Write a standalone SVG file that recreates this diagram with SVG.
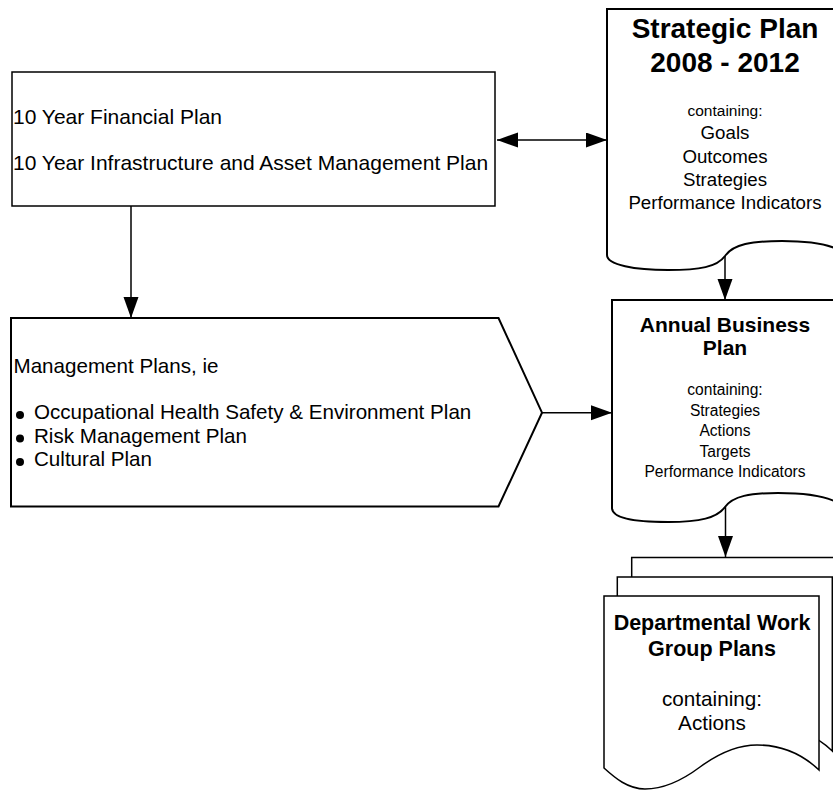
<svg xmlns="http://www.w3.org/2000/svg" xmlns:xlink="http://www.w3.org/1999/xlink" width="833" height="790" viewBox="0 0 833 790">
  <style>
    .box { fill: #ffffff; stroke: #000000; stroke-width: 2; stroke-linejoin: miter; }
    .thin { fill: #ffffff; stroke: #000000; stroke-width: 1.5; }
    .conn { fill: none; stroke: #000000; stroke-width: 1.5; }
    text { font-family: "Liberation Sans", Arial, sans-serif; fill: #000000; }
    .body { font-size: 20.6px; }
    .wide { font-size: 21px; }
    .mid { text-anchor: middle; }
    .bold { font-weight: bold; }
  </style>
  <defs>
    <marker id="arrow" markerUnits="userSpaceOnUse" markerWidth="22" markerHeight="16" refX="21" refY="7.5" orient="auto-start-reverse">
      <path d="M0,0 L21,7.5 L0,15 Z" fill="#000000"/>
    </marker>
    <!-- one sheet of the stacked multi-document shape -->
    <path id="sheet" d="M604,596 H819 V770 C800,752 780,745 757,745 C735,745 715,756 700,767 C680,782 662,789 645,789 C628,789 615,778 604,768 Z"/>
  </defs>

  <rect width="833" height="790" fill="#ffffff"/>

  <!-- connectors -->
  <g id="connectors">
    <line class="conn" x1="497" y1="140" x2="607" y2="140" marker-start="url(#arrow)" marker-end="url(#arrow)"/>
    <line class="conn" x1="131" y1="206" x2="131" y2="318" marker-end="url(#arrow)"/>
    <line class="conn" x1="542" y1="412.7" x2="612" y2="412.7" marker-end="url(#arrow)"/>
    <line class="conn" x1="725" y1="256" x2="725" y2="300" marker-end="url(#arrow)"/>
    <line class="conn" x1="725.5" y1="507" x2="725.5" y2="557" marker-end="url(#arrow)"/>
  </g>

  <!-- long-range plans -->
  <g id="long-range-plans">
    <rect class="thin" x="12" y="72" width="483" height="134"/>
    <text class="wide" x="13" y="124">10 Year Financial Plan</text>
    <text class="wide" x="13" y="170">10 Year Infrastructure and Asset Management Plan</text>
  </g>

  <!-- management plans -->
  <g id="management-plans">
    <path class="box" d="M11,318 L498.5,318 L542,412.7 L498.5,506.5 L11,506.5 Z"/>
    <text class="body" x="13.5" y="373">Management Plans, ie</text>
    <circle cx="20" cy="415" r="4"/>
    <circle cx="20" cy="438.5" r="4"/>
    <circle cx="20" cy="462" r="4"/>
    <text class="body" x="34" y="419">Occupational Health Safety &amp; Environment Plan</text>
    <text class="body" x="34" y="443">Risk Management Plan</text>
    <text class="body" x="34" y="466">Cultural Plan</text>
  </g>

  <!-- strategic plan -->
  <g id="strategic-plan">
    <path class="box" d="M607,9 H843 V252 C830,244 810,241 782,241 C752,241 733,244 725,256 C717,267 700,270 668,270 C635,270 607,265 607,255 Z"/>
    <text class="mid bold" x="725" y="38" font-size="28">Strategic Plan</text>
    <text class="mid bold" x="725" y="72" font-size="28">2008 - 2012</text>
    <text class="mid" x="725" y="116" font-size="15.5">containing:</text>
    <text class="mid" x="725" y="139" font-size="18.7">Goals</text>
    <text class="mid" x="725" y="163" font-size="18.7">Outcomes</text>
    <text class="mid" x="725" y="186" font-size="18.7">Strategies</text>
    <text class="mid" x="725" y="209" font-size="18.7">Performance Indicators</text>
  </g>

  <!-- annual business plan -->
  <g id="annual-business-plan">
    <path class="box" d="M612,300 H838 V503 C826,496 806,493 778,493 C750,493 733,496 725,507 C717,518 700,522 668,522 C635,522 612,518 612,508 Z"/>
    <text class="mid bold" x="725" y="332" font-size="21">Annual Business</text>
    <text class="mid bold" x="725" y="355" font-size="21">Plan</text>
    <text class="mid" x="725" y="395" font-size="15.6">containing:</text>
    <text class="mid" x="725" y="416" font-size="15.6">Strategies</text>
    <text class="mid" x="725" y="436" font-size="15.6">Actions</text>
    <text class="mid" x="725" y="457" font-size="15.6">Targets</text>
    <text class="mid" x="725" y="477" font-size="15.6">Performance Indicators</text>
  </g>

  <!-- departmental work group plans -->
  <g id="departmental-plans">
    <use xlink:href="#sheet" class="thin" transform="translate(27.7,-38.4)"/>
    <use xlink:href="#sheet" class="thin" transform="translate(13.3,-19)"/>
    <use xlink:href="#sheet" class="thin"/>
    <text class="mid bold" x="712" y="630" font-size="21.5">Departmental Work</text>
    <text class="mid bold" x="712" y="656" font-size="21.5">Group Plans</text>
    <text class="mid" x="712" y="706" font-size="20.7">containing:</text>
    <text class="mid" x="712" y="730" font-size="20.7">Actions</text>
  </g>
</svg>
